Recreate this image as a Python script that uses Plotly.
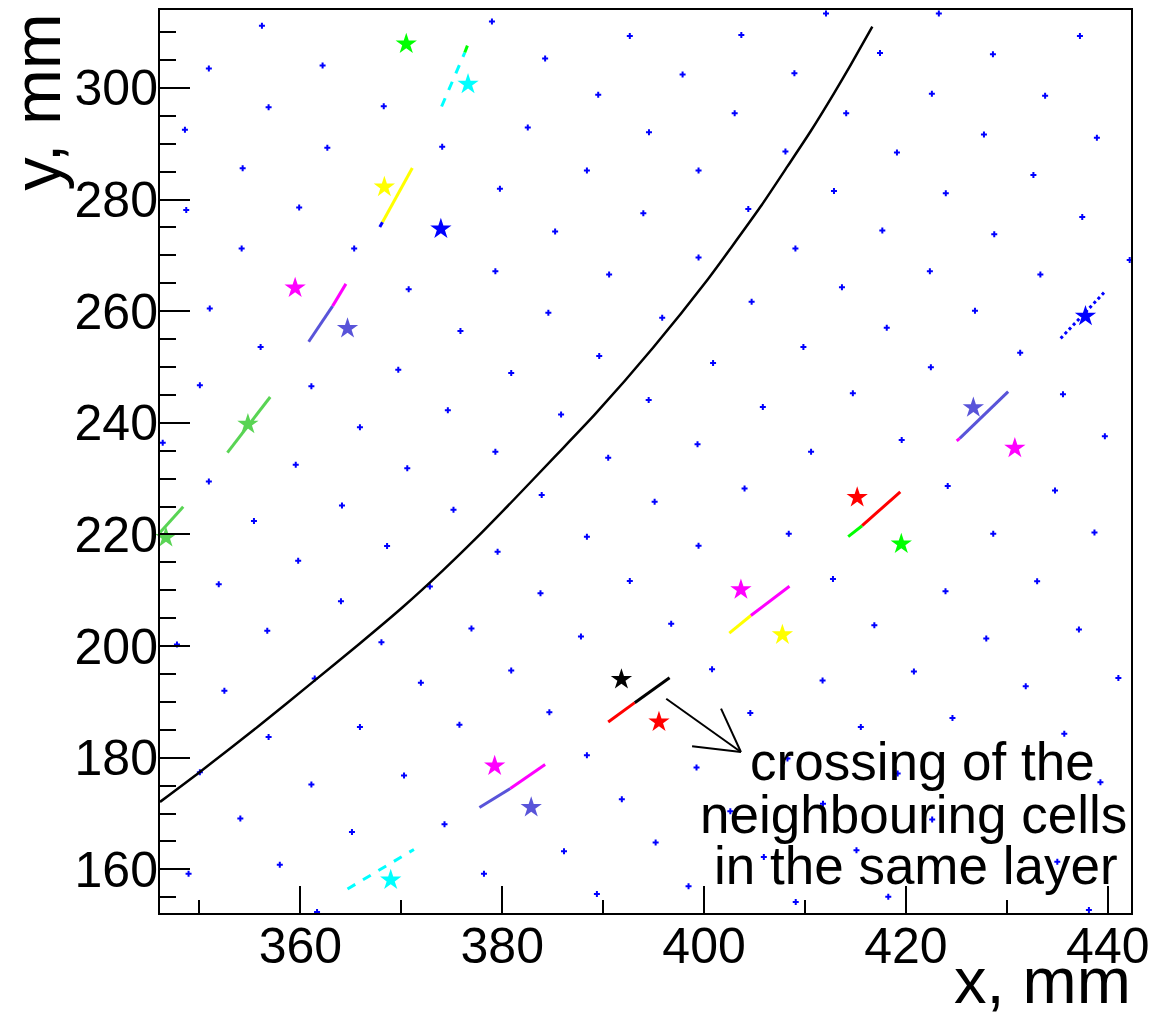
import plotly.graph_objects as go

# ---------------- data (mm) ----------------
wire_x = [356.19, 378.98, 392.64, 350.93, 362.20, 384.25, 356.85, 368.26, 389.51, 348.56,
          362.67, 374.05, 382.53, 394.54, 354.28, 388.39, 379.77, 348.69, 359.88, 393.98,
          385.24, 354.18, 365.33, 379.32, 390.59, 370.73, 351.02, 384.57, 375.86, 356.06,
          389.61, 369.70, 380.89, 350.04, 361.09, 394.51, 374.61, 385.83, 365.90, 346.36,
          379.32, 390.50,
          412.08, 423.26, 403.69, 437.24, 397.87, 408.95, 417.43, 428.62, 403.03, 414.08,
          422.57, 433.79, 408.06, 419.11, 427.73, 438.92, 399.45, 412.87, 423.95, 432.63,
          437.47, 404.38, 417.66, 428.75, 399.45, 409.05, 442.17, 422.37, 433.32, 413.66,
          404.71, 395.85, 426.84, 418.10, 409.84, 400.89, 431.32, 422.47, 405.82, 414.74,
          435.56, 399.35, 410.60, 419.58, 439.71,
          359.54, 370.59, 350.93, 364.12, 375.17, 355.40, 383.91, 368.59, 388.39, 359.78,
          379.54, 351.91, 372.83, 392.64, 364.02, 383.79, 356.72, 376.95, 347.77, 368.03,
          387.80, 361.42, 380.89, 352.47, 371.94, 384.67, 356.85, 365.90, 375.76, 388.39,
          350.04, 370.27, 361.09, 391.85, 354.05, 374.28, 365.11, 386.12, 357.96, 348.92,
          378.19, 389.38, 361.65,
          395.10, 404.01, 424.14, 434.77, 399.45, 408.39, 428.65, 438.68, 412.77, 433.00,
          423.92, 396.74, 416.87, 437.14, 427.96, 400.79, 411.74, 420.79, 431.87, 441.05,
          404.58, 415.53, 424.61, 435.69, 399.25, 408.26, 419.18, 439.27, 411.78, 402.60,
          422.60, 395.20, 415.10, 405.92, 435.00, 398.46, 409.08, 418.25, 438.13]
wire_y = [311.14, 311.91, 309.30, 303.46, 303.99, 305.24, 296.54, 296.71, 298.75, 292.49,
          289.28, 289.46, 292.91, 292.07, 285.58, 285.22, 281.95, 278.12, 278.55, 277.53,
          274.26, 271.22, 271.22, 267.16, 266.57, 263.94, 260.49, 259.70, 256.43, 253.57,
          251.96, 249.51, 248.92, 246.72, 246.54, 244.09, 242.25, 241.47, 239.21, 236.41,
          234.80, 233.73,
          313.34, 313.34, 309.48, 309.30, 302.38, 302.61, 306.26, 306.01, 295.46, 295.46,
          298.93, 298.57, 288.61, 288.44, 291.65, 291.06, 285.22, 281.52, 281.11, 284.38,
          276.87, 278.30, 274.44, 273.78, 269.61, 271.22, 269.18, 267.16, 266.57, 264.30,
          261.67, 258.81, 260.06, 257.02, 253.57, 250.71, 252.55, 249.94, 242.84, 245.29,
          245.11, 236.17, 234.80, 236.94, 237.60,
          232.47, 231.88, 229.49, 225.20, 224.43, 222.41, 227.06, 217.94, 219.60, 215.31,
          216.92, 211.07, 210.66, 211.68, 208.03, 209.46, 202.74, 203.15, 200.29, 200.70,
          201.72, 194.21, 195.64, 192.01, 193.44, 188.13, 183.72, 185.50, 185.93, 180.44,
          177.40, 176.81, 175.21, 172.58, 169.13, 168.11, 166.68, 163.23, 160.83, 159.22,
          159.22, 155.59, 152.37,
          225.86, 228.24, 228.66, 227.88, 217.99, 220.14, 220.14, 220.37, 212.04, 211.61,
          209.82, 203.99, 203.74, 202.97, 201.36, 195.87, 193.85, 195.46, 192.83, 194.27,
          188.01, 185.50, 187.11, 184.32, 178.24, 179.85, 177.17, 175.62, 171.74, 170.43,
          168.95, 164.84, 163.41, 162.21, 161.37, 156.97, 154.16, 155.11, 152.73]

track_x = [346.09, 350.04, 355.96, 361.22, 365.83, 370.10, 374.05, 377.34, 380.95, 385.24,
           389.18, 394.94, 400.36, 402.66, 405.62, 408.26, 410.56, 412.87, 414.50, 416.67]
track_y = [172.09, 177.46, 185.81, 193.55, 200.38, 206.91, 213.43, 219.19, 225.86, 233.99,
           241.50, 253.45, 265.68, 271.33, 278.78, 285.93, 292.23, 299.02, 304.04, 310.96]

# hit segments per colour (None separates segments)
cyan_seg_x = [373.99, 376.29, None, 364.67, 371.25]
cyan_seg_y = [296.66, 306.32, None, 156.49, 163.58]
green_seg_x = [376.29, 376.55, None, 414.28, 415.66]
green_seg_y = [306.32, 307.57, None, 219.60, 221.57]
lgreen_seg_x = [352.77, 357.01, None, 346.09, 348.39]
lgreen_seg_y = [234.67, 244.63, None, 220.37, 224.96]
yellow_seg_x = [368.13, 371.09, None, 402.50, 404.64]
yellow_seg_y = [275.92, 285.63, None, 202.31, 205.48]
blue_seg_x = [367.87, 368.13]
blue_seg_y = [275.08, 275.92]
blue_dot_seg_x = [435.33, 439.83]
blue_dot_seg_y = [255.13, 263.71]
slate_seg_x = [360.82, 363.19, None, 377.74, 380.80, None, 425.33, 430.13]
slate_seg_y = [254.52, 260.90, None, 171.09, 174.49, None, 237.21, 245.58]
magenta_seg_x = [363.19, 364.51, None, 380.80, 384.25, None, 404.64, 408.46, None, 425.03, 425.33]
magenta_seg_y = [260.90, 264.89, None, 174.49, 178.78, None, 205.48, 210.71, None, 236.76, 237.21]
red_seg_x = [390.50, 393.13, None, 415.66, 419.44]
red_seg_y = [186.40, 189.87, None, 221.57, 227.65]
black_seg_x = [393.13, 396.58]
black_seg_y = [189.87, 194.34]

# stars (cell centres)
star_green_x = [370.49, 419.54]
star_green_y = [307.87, 218.30]
star_cyan_x = [376.61, 368.95]
star_cyan_y = [300.65, 158.09]
star_yellow_x = [368.32, 407.76]
star_yellow_y = [282.23, 202.02]
star_blue_x = [373.92, 437.79]
star_blue_y = [274.72, 259.11]
star_magenta_x = [359.48, 379.25, 403.65, 430.79]
star_magenta_y = [264.17, 178.53, 210.12, 235.46]
star_slate_x = [364.67, 382.87, 426.68]
star_slate_y = [256.91, 171.09, 242.72]
star_lgreen_x = [354.80, 346.68]
star_lgreen_y = [239.75, 219.47]
star_red_x = [415.17, 395.53]
star_red_y = [226.63, 186.40]
star_black_x = [391.81]
star_black_y = [194.03]

note_lines = ["crossing of the", "neighbouring cells", "in the same layer"]

# ---------------- figure ----------------
FONT = "Liberation Sans, Arial, Helvetica, sans-serif"
C_LGREEN = "#59d454"
C_SLATE = "#5954d9"

fig = go.Figure()

fig.add_trace(go.Scatter(x=wire_x, y=wire_y, mode="markers",
                         marker=dict(symbol="cross", size=5, color="#0000ff"),
                         showlegend=False, hoverinfo="skip"))

fig.add_trace(go.Scatter(x=track_x, y=track_y, mode="lines",
                         line=dict(color="black", width=2.5, shape="spline", smoothing=0.6),
                         showlegend=False, hoverinfo="skip"))

segs = [
    (cyan_seg_x, cyan_seg_y, "#00ffff", "dash"),
    (green_seg_x, green_seg_y, "#00ff00", "solid"),
    (lgreen_seg_x, lgreen_seg_y, C_LGREEN, "solid"),
    (yellow_seg_x, yellow_seg_y, "#ffff00", "solid"),
    (blue_seg_x, blue_seg_y, "#0000ff", "solid"),
    (blue_dot_seg_x, blue_dot_seg_y, "#0000ff", "dot"),
    (slate_seg_x, slate_seg_y, C_SLATE, "solid"),
    (magenta_seg_x, magenta_seg_y, "#ff00ff", "solid"),
    (red_seg_x, red_seg_y, "#ff0000", "solid"),
    (black_seg_x, black_seg_y, "black", "solid"),
]
for sx, sy, col, dash in segs:
    fig.add_trace(go.Scatter(x=sx, y=sy, mode="lines",
                             line=dict(color=col, width=3, dash=dash),
                             showlegend=False, hoverinfo="skip"))

stars = [
    (star_green_x, star_green_y, "#00ff00"),
    (star_cyan_x, star_cyan_y, "#00ffff"),
    (star_yellow_x, star_yellow_y, "#ffff00"),
    (star_blue_x, star_blue_y, "#0000ff"),
    (star_magenta_x, star_magenta_y, "#ff00ff"),
    (star_slate_x, star_slate_y, C_SLATE),
    (star_lgreen_x, star_lgreen_y, C_LGREEN),
    (star_red_x, star_red_y, "#ff0000"),
    (star_black_x, star_black_y, "black"),
]
for sx, sy, col in stars:
    fig.add_trace(go.Scatter(x=sx, y=sy, mode="markers",
                             marker=dict(symbol="star", size=16, color=col, line=dict(width=0)),
                             showlegend=False, hoverinfo="skip", cliponaxis=False))

# arrow (open head) drawn with shapes
arrow = [((396.25, 190.58), (403.65, 181.03)),
         ((401.68, 188.79), (403.65, 181.03)),
         ((398.81, 182.05), (403.65, 181.03))]
for (x0, y0), (x1, y1) in arrow:
    fig.add_shape(type="line", xref="x", yref="y", x0=x0, y0=y0, x1=x1, y1=y1,
                  line=dict(color="black", width=2))

note_pos = [(421.68, 179.37), (420.72, 169.89), (420.96, 160.78)]
for txt, (ax, ay) in zip(note_lines, note_pos):
    fig.add_annotation(x=ax, y=ay, xref="x", yref="y", text=txt, showarrow=False,
                       xanchor="center", yanchor="middle",
                       font=dict(family=FONT, size=53, color="black"))

fig.add_annotation(x=-0.128, y=0.898, xref="paper", yref="paper", text="y, mm",
                   textangle=-90, showarrow=False, xanchor="center", yanchor="middle",
                   font=dict(family=FONT, size=67, color="black"))
fig.add_annotation(x=1.002, y=-0.075, xref="paper", yref="paper", text="x, mm",
                   showarrow=False, xanchor="right", yanchor="middle",
                   font=dict(family=FONT, size=65, color="black"))

axis_common = dict(showgrid=False, zeroline=False, showline=True, linecolor="black",
                   linewidth=2, mirror=True, ticks="inside", tickcolor="black",
                   tickwidth=1.5, tickfont=dict(family=FONT, size=50, color="black"))

fig.update_xaxes(range=[346.09, 442.3], tick0=0, dtick=20, ticklen=27,
                 minor=dict(dtick=10, tick0=0, ticks="inside", ticklen=13,
                            tickcolor="black", tickwidth=1.5),
                 ticklabelstandoff=-12, **axis_common)
fig.update_yaxes(range=[152.19, 313.95], tick0=0, dtick=20, ticklen=30,
                 minor=dict(dtick=5, tick0=0, ticks="inside", ticklen=16,
                            tickcolor="black", tickwidth=1.5),
                 ticklabelstandoff=-10, **axis_common)

fig.update_layout(width=1157, height=1015,
                  margin=dict(l=160, r=22, t=8, b=102, pad=0),
                  plot_bgcolor="white", paper_bgcolor="white",
                  showlegend=False)

fig.write_html("out.html")
